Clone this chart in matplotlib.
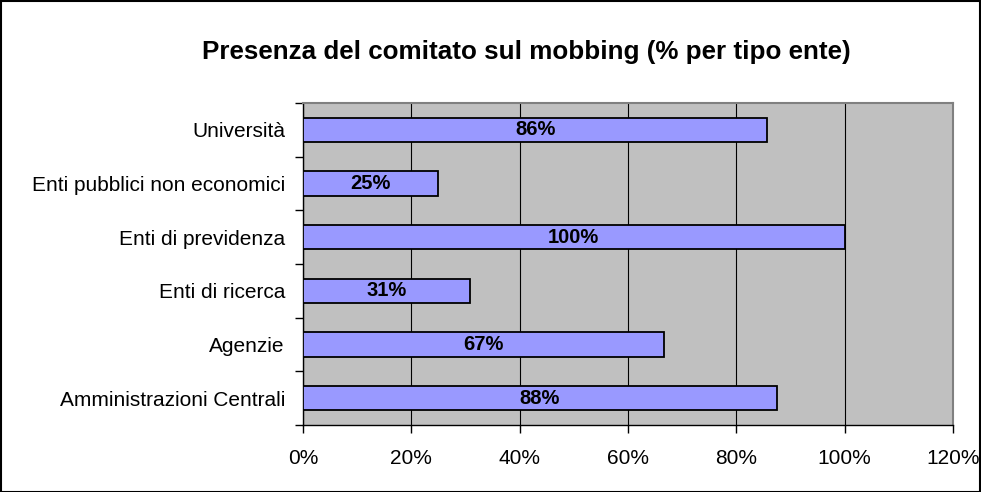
import matplotlib
matplotlib.use("Agg")
import matplotlib.pyplot as plt
from matplotlib.patches import Rectangle

categories = ["Amministrazioni Centrali", "Agenzie", "Enti di ricerca",
              "Enti di previdenza", "Enti pubblici non economici", "Università"]
values = [87.5, 66.7, 30.8, 100.0, 25.0, 85.7]
labels = ["88%", "67%", "31%", "100%", "25%", "86%"]
xticks = [0, 20, 40, 60, 80, 100, 120]
xticklabels = ["0%", "20%", "40%", "60%", "80%", "100%", "120%"]
title = "Presenza del comitato sul mobbing (% per tipo ente)"

plt.rcParams['font.family'] = ['Liberation Sans', 'DejaVu Sans']

W, H = 981, 492
fig = plt.figure(figsize=(W / 100, H / 100), dpi=100)
fig.patch.set_facecolor("white")
fig.add_artist(Rectangle((0.5 / W, 0.5 / H), 1 - 1.5 / W, 1 - 1.5 / H, transform=fig.transFigure,
                         fill=False, edgecolor="black", linewidth=1.5))

left, right, top, bottom = 303, 953, 103, 425
ax = fig.add_axes([left / W, 1 - bottom / H, (right - left) / W, (bottom - top) / H])
ax.set_facecolor("#C0C0C0")

y = list(range(len(categories)))
ax.barh(y, values, height=0.45, color="#9999FF", edgecolor="black", linewidth=1.3, zorder=3)
for yi, v, lab in zip(y, values, labels):
    ax.text(v / 2, yi, lab, ha="center", va="center", fontsize=14.5, fontweight="bold", zorder=4)

ax.set_xlim(0, 120)
ax.set_ylim(-0.5, len(categories) - 0.5)
ax.set_xticks(xticks)
ax.set_xticklabels(xticklabels, fontsize=15)
ax.set_yticks(y)
ax.set_yticklabels(categories, fontsize=15)
ax.tick_params(axis="y", length=0, pad=13)
ax.set_yticks([i - 0.5 for i in range(len(categories) + 1)], minor=True)
ax.tick_params(axis="y", which="minor", length=6, width=1, color="black", direction="out")
ax.tick_params(axis="x", length=6, width=1, direction="out", pad=11)
ax.xaxis.grid(True, color="black", linewidth=0.8, zorder=1)
ax.set_axisbelow(True)
for s in ["top", "right"]:
    ax.spines[s].set_color("#808080")
    ax.spines[s].set_linewidth(1.5)
for s in ["left", "bottom"]:
    ax.spines[s].set_color("black")
    ax.spines[s].set_linewidth(1)

fig.text(526 / W, 1 - 52 / H, title, ha="center", va="center", fontsize=18.7, fontweight="bold")

fig.savefig("out.png", dpi=100)
